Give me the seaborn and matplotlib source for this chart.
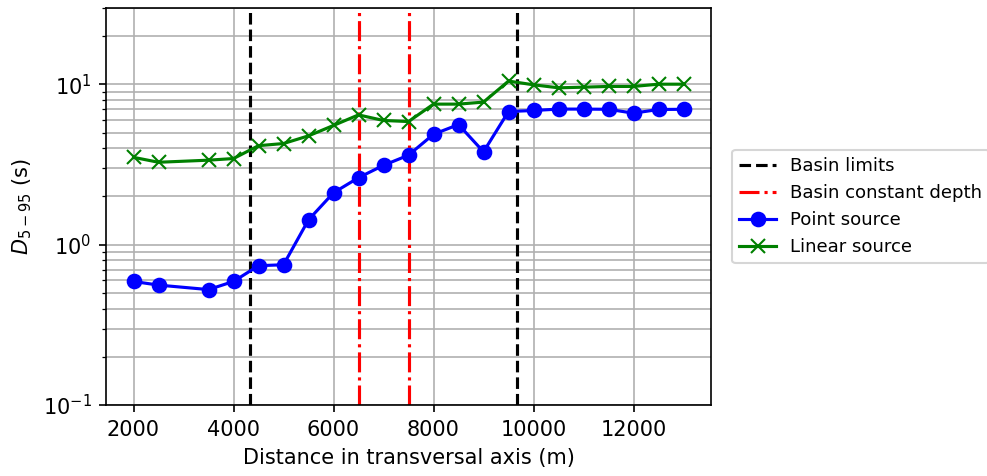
import matplotlib
matplotlib.use("Agg")
import matplotlib.pyplot as plt
import seaborn as sns
import pandas as pd

distance = [2000, 2500, 3500, 4000, 4500, 5000, 5500, 6000, 6500, 7000, 7500,
            8000, 8500, 9000, 9500, 10000, 10500, 11000, 11500, 12000, 12500, 13000]
point_source = [0.59, 0.56, 0.525, 0.59, 0.74, 0.75, 1.43, 2.11, 2.62, 3.13, 3.62,
                4.89, 5.62, 3.80, 6.78, 6.88, 7.02, 7.02, 7.0, 6.62, 6.98, 7.0]
linear_source = [3.51, 3.27, 3.37, 3.45, 4.15, 4.28, 4.78, 5.55, 6.46, 5.96, 5.87,
                 7.54, 7.54, 7.76, 10.5, 9.95, 9.53, 9.62, 9.72, 9.72, 10.04, 10.04]
basin_limits = [4333, 9667]
basin_constant = [6500, 7500]

df = pd.DataFrame({"x": distance, "point": point_source, "linear": linear_source})

dpi = 150
fig, ax = plt.subplots(figsize=(987 / dpi, 476 / dpi), dpi=dpi)
fig.subplots_adjust(left=106 / 987, right=711 / 987, bottom=1 - 405 / 476, top=1 - 8 / 476)

for i, xv in enumerate(basin_limits):
    ax.axvline(xv, color="k", ls="--", lw=1.5, label="Basin limits" if i == 0 else None)
for i, xv in enumerate(basin_constant):
    ax.axvline(xv, color="red", ls="-.", lw=1.5, label="Basin constant depth" if i == 0 else None)

sns.lineplot(data=df, x="x", y="point", ax=ax, color="blue", marker="o",
             markersize=6.5, markeredgecolor="blue", markeredgewidth=1,
             linewidth=1.5, label="Point source")
sns.lineplot(data=df, x="x", y="linear", ax=ax, color="green", marker="x",
             markersize=6.5, markeredgecolor="green", markeredgewidth=1,
             linewidth=1.5, label="Linear source")

ax.set_yscale("log")
ax.set_ylim(0.1, 30)
ax.set_xlim(1450, 13550)
ax.grid(True, which="both", color="#b0b0b0", linewidth=0.8)
ax.set_axisbelow(True)
ax.set_xlabel("Distance in transversal axis (m)")
ax.set_ylabel(r"$D_{5-95}$ (s)")
ax.legend(loc="center left", bbox_to_anchor=(1.02, 0.5), fontsize=8.7)

fig.savefig("out.png", dpi=dpi)
